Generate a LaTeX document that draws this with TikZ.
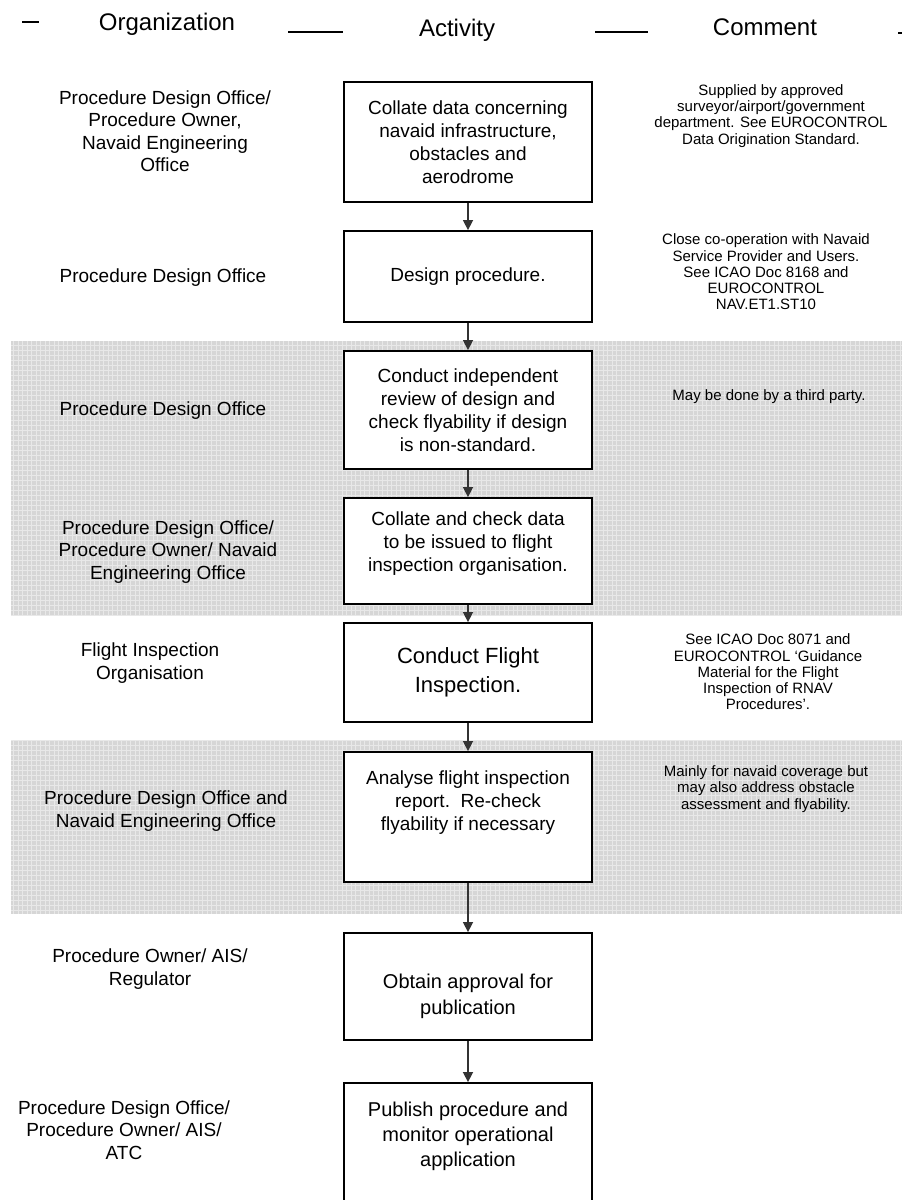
\documentclass[tikz,border=0pt]{standalone}
\usepackage{fontspec}
\setmainfont{Liberation Sans}
\usetikzlibrary{arrows.meta}

\begin{document}
\begin{tikzpicture}[x=1pt,y=-1pt,
  box/.style={draw=black,line width=1.8pt,fill=white,inner sep=0pt,align=center,
    minimum width=248pt,font=\fontsize{19}{23}\selectfont},
  boxtext/.style={align=center,inner sep=0pt,font=\fontsize{19}{23}\selectfont},
  org/.style={align=center,inner sep=0pt,font=\fontsize{19}{22.5}\selectfont},
  note/.style={align=center,inner sep=0pt,font=\fontsize{15}{16.2}\selectfont},
  head/.style={inner sep=0pt,font=\fontsize{24}{28}\selectfont},
  flow/.style={draw=black!80,line width=1.5pt,-{Triangle[length=10pt,width=10pt]}},
  band/.style={fill=black!16},
  mesh/.style={draw=white,opacity=0.45,line width=0.6pt},
  rule/.style={line width=1.6pt},
]
\useasboundingbox (0,0) rectangle (902,1200);
\clip (0,0) rectangle (902,1200);
\fill[white] (0,0) rectangle (902,1200);

% shaded bands
\fill[band] (11,341) rectangle (902,616);
\draw[mesh,xstep=4.5pt,ystep=5pt] (11,341) grid (902,616);
\fill[band] (11,740) rectangle (902,914);
\draw[mesh,xstep=4.5pt,ystep=5pt] (11,740) grid (902,914);

% column headings
\draw[rule] (22,22) -- (39,22);
\node[head] (hOrg) at (167,24) {Organization};
\draw[rule] (288,32) -- (343,32);
\node[head] (hAct) at (457,30) {Activity};
\draw[rule] (595,32) -- (648,32);
\node[head] (hCom) at (765,27) {Comment};
\draw[rule] (898,33) -- (902,33);

% activity boxes, all centred on the flow axis
\coordinate (ax) at (468,0);
\node[box,minimum height=120pt] (b1) at (468,142)
  {Collate data concerning\\navaid infrastructure,\\obstacles and\\aerodrome};
\node[box,minimum height=91pt] (b2) at (468,276.5)
  {Design procedure.};
\node[box,minimum height=118pt] (b3) at (468,410)
  {Conduct independent\\review of design and\\check flyability if design\\is non-standard.};
\node[box,minimum height=106pt] (b4) at (468,551) {};
\node[boxtext] (b4t) at (468,544)
  {Collate and check data\\to be issued to flight\\inspection organisation.};
\node[box,minimum height=99pt,font=\fontsize{22}{29}\selectfont] (b5) at (468,672.5)
  {Conduct Flight\\Inspection.};
\node[box,minimum height=130pt] (b6) at (468,817) {};
\node[boxtext] (b6t) at (468,803)
  {Analyse flight inspection\\report.\ \ Re-check\\flyability if necessary};
\node[box,minimum height=107pt] (b7) at (468,986.5) {};
\node[boxtext,font=\fontsize{20}{26}\selectfont] (b7t) at (468,996)
  {Obtain approval for\\publication};
\node[box,minimum height=150pt] (b8) at (468,1158) {};
\node[boxtext,font=\fontsize{20}{25}\selectfont] (b8t) at (468,1136)
  {Publish procedure and\\monitor operational\\application};

% connectors
\draw[flow] (b1.south -| ax) -- (b2.north -| ax);
\draw[flow] (b2.south -| ax) -- (b3.north -| ax);
\draw[flow] (b3.south -| ax) -- (b4.north -| ax);
\draw[flow] (b4.south -| ax) -- (b5.north -| ax);
\draw[flow] (b5.south -| ax) -- (b6.north -| ax);
\draw[flow] (b6.south -| ax) -- (b7.north -| ax);
\draw[flow] (b7.south -| ax) -- (b8.north -| ax);

% organisations
\node[org] (o1) at (165,131) {Procedure Design Office/\\Procedure Owner,\\Navaid Engineering\\Office};
\node[org] (o2) at (163,278) {Procedure Design Office};
\node[org] (o3) at (163,411) {Procedure Design Office};
\node[org] (o4) at (168,552) {Procedure Design Office/\\Procedure Owner/ Navaid\\Engineering Office};
\node[org] (o5) at (150,663) {Flight Inspection\\Organisation};
\node[org] (o6) at (166,811) {Procedure Design Office and\\Navaid Engineering Office};
\node[org] (o7) at (150,969) {Procedure Owner/ AIS/\\Regulator};
\node[org] (o8) at (124,1130) {Procedure Design Office/\\Procedure Owner/ AIS/\\ATC};

% comments
\node[note] (c1) at (771,116) {Supplied by approved\\surveyor/airport/government\\department. See EUROCONTROL\\Data Origination Standard.};
\node[note] (c2) at (766,272) {Close co-operation with Navaid\\Service Provider and Users.\\See ICAO Doc 8168 and\\EUROCONTROL\\NAV.ET1.ST10};
\node[note] (c3) at (769,397) {May be done by a third party.};
\node[note] (c4) at (768,672) {See ICAO Doc 8071 and\\EUROCONTROL `Guidance\\Material for the Flight\\Inspection of RNAV\\Procedures'.};
\node[note] (c5) at (766,789) {Mainly for navaid coverage but\\may also address obstacle\\assessment and flyability.};
\end{tikzpicture}
\end{document}
